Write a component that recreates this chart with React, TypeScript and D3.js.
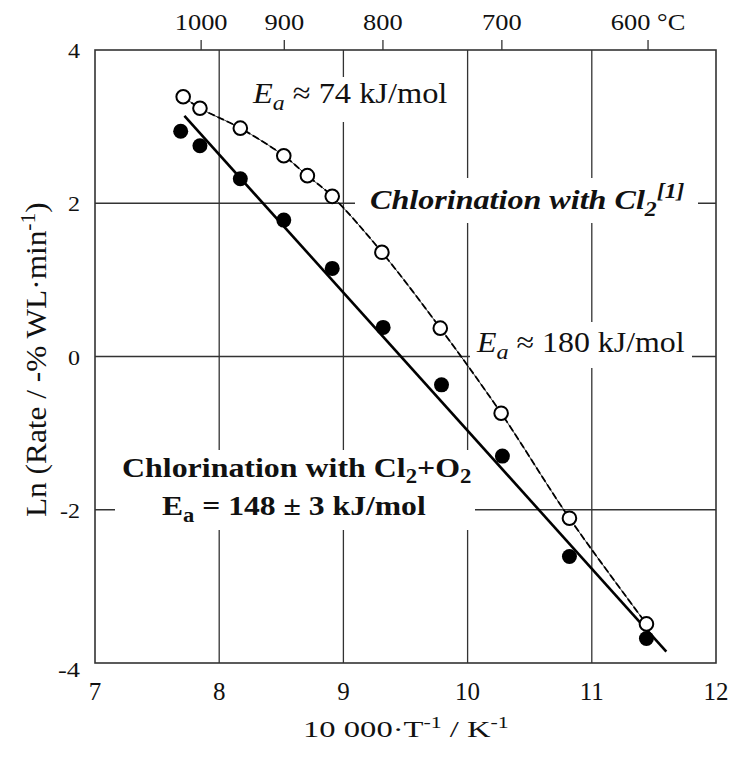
import React from 'react';
import * as d3 from 'd3';

// open circles: chlorination with Cl2 [1]
const cl2X = [7.71, 7.845, 8.17, 8.52, 8.71, 8.91, 9.31, 9.78, 10.27, 10.82, 11.44];
const cl2Y = [3.39, 3.24, 2.98, 2.62, 2.36, 2.09, 1.36, 0.37, -0.74, -2.11, -3.49];

// filled circles: chlorination with Cl2 + O2
const mixX = [7.69, 7.845, 8.17, 8.52, 8.91, 9.32, 9.79, 10.28, 10.82, 11.44];
const mixY = [2.94, 2.75, 2.32, 1.78, 1.15, 0.38, -0.37, -1.3, -2.61, -3.68];

// Arrhenius fit through the filled points
const fitX = [7.72, 11.6];
const fitY = [3.14, -3.85];

const xTicks = [7, 8, 9, 10, 11, 12];
const yTicks = [4, 2, 0, -2, -4];
const celsiusTicks = [1000, 900, 800, 700, 600];
const celsiusLabels = ['1000', '900', '800', '700', '600 °C'];

const W = 732;
const H = 757;
const margin = { top: 50, right: 16, bottom: 94, left: 95 };
const FONT = '"Liberation Serif", "Times New Roman", serif';

const App: React.FC = () => {
  const x = d3.scaleLinear().domain([7, 12]).range([margin.left, W - margin.right]);
  const y = d3.scaleLinear().domain([-4, 4]).range([H - margin.bottom, margin.top]);

  const cl2 = cl2X.map((v, i) => [v, cl2Y[i]] as [number, number]);
  const mix = mixX.map((v, i) => [v, mixY[i]] as [number, number]);
  const fit = fitX.map((v, i) => [v, fitY[i]] as [number, number]);

  const curve = d3.line<[number, number]>()
    .x(d => x(d[0]))
    .y(d => y(d[1]))
    .curve(d3.curveCatmullRom.alpha(0.5));
  const straight = d3.line<[number, number]>()
    .x(d => x(d[0]))
    .y(d => y(d[1]));

  const x0 = x(7), x1 = x(12), y0 = y(-4), y1 = y(4);

  // white patches behind the annotations, so the grid stops at the text
  const patches = [
    { x: 248, y: 77, w: 205, h: 45 },
    { x: 355, y: 178, w: 343, h: 45 },
    { x: 470, y: 322, w: 222, h: 46 },
    { x: 115, y: 450, w: 360, h: 80 },
  ];

  return (
    <svg width={W} height={H} style={{ position: 'absolute', left: 0, top: 0, background: '#fff' }}
      fontFamily={FONT}>
      {/* grid */}
      <g stroke="#333" strokeWidth={1.3}>
        {xTicks.slice(1, -1).map(t => (
          <line key={'gx' + t} x1={x(t)} x2={x(t)} y1={y1} y2={y0} />
        ))}
        {yTicks.slice(1, -1).map(t => (
          <line key={'gy' + t} x1={x0} x2={x1} y1={y(t)} y2={y(t)} />
        ))}
      </g>
      {patches.map((p, i) => (
        <rect key={i} x={p.x} y={p.y} width={p.w} height={p.h} fill="#fff" />
      ))}

      {/* frame */}
      <rect x={x0} y={y1} width={x1 - x0} height={y0 - y1} fill="none" stroke="#333" strokeWidth={1.6} />

      {/* top temperature axis */}
      {celsiusTicks.map((c, i) => {
        const px = x(10000 / (c + 273.15));
        return (
          <g key={'c' + c}>
            <line x1={px} x2={px} y1={y1} y2={y1 - 10} stroke="#333" strokeWidth={1.3} />
            <g transform={`translate(${px},30) scale(1.15,1)`}>
              <text x={0} y={0} textAnchor="middle" fontSize={23} fill="#111">{celsiusLabels[i]}</text>
            </g>
          </g>
        );
      })}

      {/* bottom tick labels */}
      {xTicks.map(t => (
        <text key={'xl' + t} x={x(t)} y={700} textAnchor="middle" fontSize={25} fill="#111">{t}</text>
      ))}
      {/* left tick labels */}
      {yTicks.map(t => (
        <g key={'yl' + t} transform={`translate(80,${y(t) + (t === -4 ? 14 : 8)}) scale(1.2,1)`}>
          <text x={0} y={0} textAnchor="end" fontSize={t === -4 ? 22 : 20} fill="#111">{t}</text>
        </g>
      ))}

      {/* axis titles */}
      <g transform="translate(303,737) scale(1.36,1)">
        <text x={0} y={0} fontSize={24} fill="#111">
          10 000·T<tspan dy={-9} fontSize={16}>-1</tspan><tspan dy={9}> / K</tspan><tspan dy={-9} fontSize={16}>-1</tspan>
        </text>
      </g>
      <g transform="translate(46,517) rotate(-90) scale(1.08,1)">
        <text x={0} y={0} fontSize={29} fill="#111">
          Ln (Rate / -% WL·min<tspan dy={-11} fontSize={20}>-1</tspan><tspan dy={11}>)</tspan>
        </text>
      </g>

      {/* annotations */}
      <g transform="translate(253,103) scale(1.08,1)">
        <text x={0} y={0} fontSize={30} fill="#111">
          <tspan fontStyle="italic">E</tspan><tspan fontStyle="italic" dy={7} fontSize={22}>a</tspan><tspan dy={-7}> ≈ 74 kJ/mol</tspan>
        </text>
      </g>
      <g transform="translate(370,209) scale(1.19,1)">
        <text x={0} y={0} fontSize={27} fontWeight="bold" fontStyle="italic" fill="#111">
          Chlorination with Cl<tspan dy={7} fontSize={20}>2</tspan><tspan dy={-18} fontSize={20}>[1]</tspan>
        </text>
      </g>
      <g transform="translate(477,352) scale(1.1,1)">
        <text x={0} y={0} fontSize={29} fill="#111">
          <tspan fontStyle="italic">E</tspan><tspan fontStyle="italic" dy={7} fontSize={22}>a</tspan><tspan dy={-7}> ≈ 180 kJ/mol</tspan>
        </text>
      </g>
      <g transform="translate(122,477) scale(1.14,1)">
        <text x={0} y={0} fontSize={28} fontWeight="bold" fill="#111">
          Chlorination with Cl<tspan dy={6} fontSize={20}>2</tspan><tspan dy={-6}>+O</tspan><tspan dy={6} fontSize={20}>2</tspan>
        </text>
      </g>
      <g transform="translate(162,515) scale(1.13,1)">
        <text x={0} y={0} fontSize={28} fontWeight="bold" fill="#111">
          E<tspan dy={7} fontSize={20}>a</tspan><tspan dy={-7}> = 148 ± 3 kJ/mol</tspan>
        </text>
      </g>

      {/* data lines */}
      <path d={straight(fit) ?? ''} fill="none" stroke="#000" strokeWidth={2.6} />
      <path d={curve(cl2) ?? ''} fill="none" stroke="#000" strokeWidth={0.8} />
      <path d={curve(cl2) ?? ''} fill="none" stroke="#000" strokeWidth={1.8} strokeDasharray="7,3" />

      {/* points */}
      {mix.map((d, i) => (
        <circle key={'m' + i} cx={x(d[0])} cy={y(d[1])} r={7.5} fill="#000" />
      ))}
      {cl2.map((d, i) => (
        <circle key={'o' + i} cx={x(d[0])} cy={y(d[1])} r={6.8} fill="#fff" stroke="#000" strokeWidth={2} />
      ))}
    </svg>
  );
};

export default App;
